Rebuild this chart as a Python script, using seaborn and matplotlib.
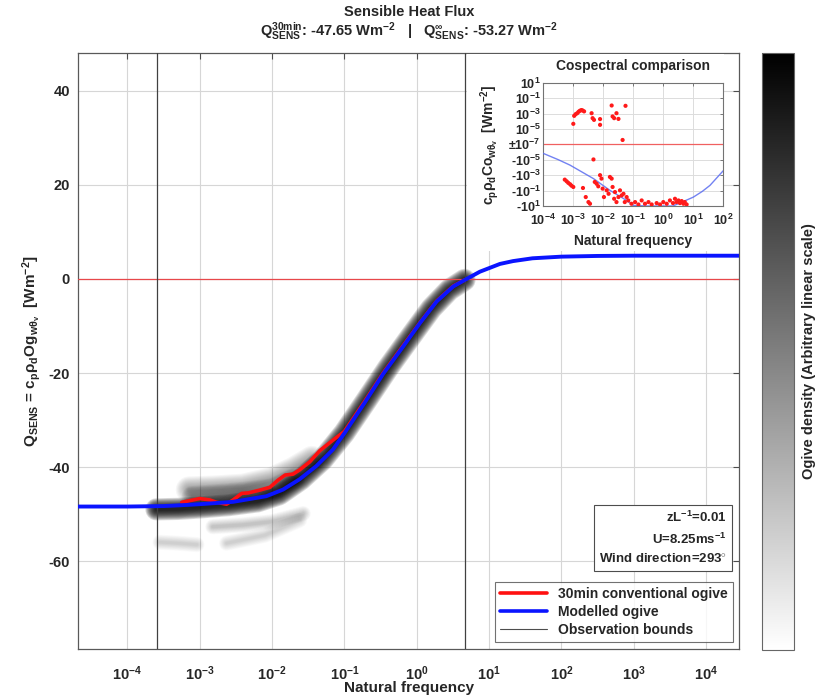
import numpy as np
import pandas as pd
import matplotlib
matplotlib.use("Agg")
import matplotlib.pyplot as plt
import seaborn as sns
from matplotlib.patches import Rectangle
from matplotlib.lines import Line2D
from matplotlib.cm import ScalarMappable
from matplotlib.colors import Normalize

# ---------------- data ----------------
# Modelled ogive (blue): log10(frequency), Q [W m-2]
model_log10f = [-4.68, -4.0, -3.5, -3.23, -3.0, -2.54, -2.08, -1.85, -1.62, -1.39,
                -1.16, -1.0, -0.72, -0.465, -0.19, 0.043, 0.274, 0.504, 0.665,
                0.873, 1.15, 1.33, 1.6, 2.0, 2.5, 3.0, 4.46]
model_q = [-48.4, -48.4, -48.3, -48.1, -47.9, -47.4, -46.2, -44.8, -42.6, -39.8,
           -36.3, -32.8, -26.3, -20.2, -14.4, -9.4, -4.8, -1.6, -0.2,
           1.55, 3.2, 3.8, 4.4, 4.75, 4.9, 4.95, 4.95]

# 30-min conventional ogive (red)
conv_log10f = [-3.25, -3.0, -2.86, -2.77, -2.63, -2.54, -2.42, -2.33, -2.17, -2.03,
               -1.92, -1.82, -1.71, -1.62, -1.48, -1.34, -1.16, -1.0, -0.72, -0.465,
               -0.19, 0.043, 0.274, 0.504, 0.665]
conv_q = [-47.5, -46.7, -47.0, -47.5, -47.9, -47.0, -45.6, -45.5, -44.9, -44.3,
          -42.8, -41.7, -41.5, -40.6, -38.9, -36.5, -34.3, -32.4, -26.0, -20.0,
          -14.2, -9.3, -4.7, -1.5, -0.2]

obs_bounds = [2.6e-4, 4.6]

# Ogive density tracks: (log10 f, Q, per-layer opacity, band width in px)
dens_tracks = [
    ([-3.6, -3.3, -3.0, -2.6, -2.2, -1.9, -1.6, -1.3, -1.0, -0.7, -0.4, -0.1, 0.2, 0.45, 0.66],
     [-49.0, -48.9, -48.6, -48.1, -47.3, -45.8, -42.6, -38.4, -32.7, -25.9, -19.0, -12.6, -6.3, -2.3, -0.2],
     0.14, 15),
    ([-3.15, -2.8, -2.4, -2.0, -1.7, -1.45], [-44.8, -44.6, -44.2, -42.8, -40.6, -38.3], 0.035, 18),
    ([-3.1, -2.6, -2.0, -1.7], [-46.4, -45.8, -44.8, -42.6], 0.04, 15),
    ([-2.82, -2.4, -1.99, -1.57], [-52.7, -52.3, -51.6, -49.9], 0.018, 10),
    ([-2.63, -2.1, -1.62], [-56.2, -54.5, -51.3], 0.016, 10),
    ([-3.55, -3.3, -3.04], [-56.0, -56.2, -56.5], 0.016, 10),
]

# Inset: cospectral comparison (frequency, cospectrum W m-2)
inset_f = [1.0e-3, 1.07e-3, 1.2e-3, 1.35e-3, 1.5e-3, 1.66e-3, 1.86e-3, 2.04e-3, 2.29e-3,
           4.07e-3, 4.4e-3, 4.9e-3, 7.8e-3, 7.8e-3, 1.9e-2, 2.04e-2, 2.3e-2, 2.75e-2,
           3.2e-2, 5.5e-2, 4.4e-2,
           4.7e-3, 5.2e-4, 6.0e-4, 6.8e-4, 7.8e-4, 8.7e-4, 1.0e-3, 2.1e-3, 2.6e-3,
           3.2e-3, 3.6e-3, 5.2e-3, 6.0e-3, 6.8e-3, 7.8e-3, 8.7e-3, 9.5e-3, 1.05e-2,
           1.3e-2, 1.5e-2, 1.66e-2, 1.9e-2, 2.04e-2, 2.3e-2, 2.45e-2, 2.75e-2, 3.2e-2,
           3.6e-2, 4.1e-2, 4.7e-2, 5.2e-2, 6.0e-2, 6.8e-2, 8.7e-2, 0.115, 0.148, 0.19,
           0.245, 0.32, 0.41, 0.6, 0.78, 1.0, 1.3, 1.66, 2.1, 2.45, 2.75, 3.2, 3.6,
           4.1, 4.7, 5.2, 6.0]
inset_co = [4.6e-5, 5.0e-4, 8.3e-4, 1.1e-3, 1.7e-3, 2.3e-3, 2.8e-3, 2.5e-3, 1.9e-3,
            1.1e-3, 2.5e-4, 1.5e-4, 1.9e-4, 3.4e-5, 1.1e-2, 4.2e-4, 2.5e-4, 1.1e-3,
            2.0e-4, 1.0e-2, 3.7e-7,
            -9.1e-6, -3.8e-3, -6.2e-3, -1.0e-2, -1.5e-2, -2.3e-2, -3.4e-2, -4.6e-2, -0.69,
            -3.1, -5.1, -7.6e-3, -1.3e-2, -2.8e-2, -1.0e-3, -2.8e-3, -5.6e-2, -0.69,
            -9.3e-2, -0.26, -1.7e-3, -2.8e-3, -3.4e-2, -1.15, -0.155, -3.1, -0.69,
            -9.3e-2, -0.42, -0.26, -3.1, -0.69, -1.9, -5.1, -3.1, -6.3, -1.9,
            -5.1, -3.1, -6.3, -4.2, -6.3, -3.1, -5.1, -1.9, -4.2, -1.15, -3.1, -1.9,
            -4.2, -2.3, -5.1, -3.1, -6.3]
inset_model_f = [1e-4, 3.2e-4, 7.8e-4, 4.7e-3, 1.66e-2, 6.0e-2, 0.1, 0.3, 1.0, 2.1,
                 10.0, 20.0, 36.0, 100.0]
inset_model_co = [-1.5e-6, -1.0e-5, -5.0e-5, -2.8e-3, -9.3e-2, -1.9, -8.5, -10.0, -10.0,
                  -10.0, -0.71, -0.126, -2.1e-2, -2.6e-4]

main_xticks = [1e-4, 1e-3, 1e-2, 1e-1, 1e0, 1e1, 1e2, 1e3, 1e4]
main_xticklabels = [r"$10^{-4}$", r"$10^{-3}$", r"$10^{-2}$", r"$10^{-1}$", r"$10^{0}$",
                    r"$10^{1}$", r"$10^{2}$", r"$10^{3}$", r"$10^{4}$"]
main_yticks = [-60, -40, -20, 0, 20, 40]
inset_xticks = [1e-4, 1e-3, 1e-2, 1e-1, 1e0, 1e1, 1e2]
inset_xticklabels = main_xticklabels[:7]
inset_yticks = [10, 1e-1, 1e-3, 1e-5, 0, -1e-5, -1e-3, -1e-1, -10]
inset_yticklabels = [r"$10^{1}$", r"$10^{-1}$", r"$10^{-3}$", r"$10^{-5}$", r"±$10^{-7}$",
                     r"-$10^{-5}$", r"-$10^{-3}$", r"-$10^{-1}$", r"-$10^{1}$"]

# ---------------- style ----------------
sns.set_style("white")
plt.rcParams["font.family"] = ["Liberation Sans", "DejaVu Sans"]
plt.rcParams["font.weight"] = "bold"
plt.rcParams["axes.labelweight"] = "bold"
plt.rcParams["axes.titleweight"] = "bold"
plt.rcParams["axes.unicode_minus"] = False
plt.rcParams["mathtext.fontset"] = "custom"
plt.rcParams["mathtext.rm"] = "Liberation Sans:bold"
plt.rcParams["mathtext.it"] = "Liberation Sans:bold"
plt.rcParams["mathtext.bf"] = "Liberation Sans:bold"
plt.rcParams["mathtext.sf"] = "Liberation Sans:bold"
plt.rcParams["mathtext.default"] = "bf"

W, H = 821, 697
fig = plt.figure(figsize=(W / 100, H / 100), dpi=100)
fig.patch.set_facecolor("white")


def fx(px):
    return px / W


def fy(py):
    return 1 - py / H


ax = fig.add_axes([fx(78.3), fy(649), fx(739.3) - fx(78.3), fy(53.3) - fy(649)])
ax.set_facecolor("white")
ax.set_xscale("log")

# density tracks (soft grey bands built from stacked translucent strokes)
nlayers = 12
for lf, q, a, width in dens_tracks:
    d = pd.DataFrame({"f": np.power(10.0, lf), "q": q})
    for k in range(nlayers):
        lw = 1.0 + width * (1 - k / nlayers)
        sns.lineplot(data=d, x="f", y="q", ax=ax, color="black", lw=lw, alpha=a,
                     sort=False, estimator=None, solid_capstyle="round",
                     solid_joinstyle="round", zorder=2)

ax.axhline(0, color="#e8474a", lw=0.9, zorder=3)
for b in obs_bounds:
    ax.axvline(b, color="0.25", lw=0.9, zorder=3)

conv = pd.DataFrame({"f": np.power(10.0, conv_log10f), "q": conv_q})
model = pd.DataFrame({"f": np.power(10.0, model_log10f), "q": model_q})
sns.lineplot(data=conv, x="f", y="q", ax=ax, color="#ff1010", lw=2.6, sort=False,
             estimator=None, zorder=4)
sns.lineplot(data=model, x="f", y="q", ax=ax, color="#0a14ff", lw=2.8, sort=False,
             estimator=None, zorder=5)

ax.set_xlim(10 ** -4.68, 10 ** 4.46)
ax.set_ylim(-78.7, 48)
ax.set_xticks(main_xticks)
ax.set_xticklabels(main_xticklabels)
ax.minorticks_off()
ax.set_yticks(main_yticks)
ax.set_yticklabels([str(v) for v in main_yticks])
ax.tick_params(axis="both", which="both", direction="in", top=True, right=True,
               length=4, width=0.8, color="0.3", labelsize=10.5)
ax.tick_params(axis="x", pad=11)
ax.tick_params(axis="y", pad=6)
ax.grid(True, color="#d6d6d6", lw=0.8)
ax.set_axisbelow(True)
for sp in ax.spines.values():
    sp.set_color("0.35")
    sp.set_linewidth(0.9)
ax.set_xlabel("Natural frequency", fontsize=11, labelpad=-1)
ax.set_ylabel(r"$Q_{SENS}$ = $c_p\rho_d Og_{w\theta_v}$  [Wm$^{-2}$]", fontsize=11, labelpad=4)

# legend
handles = [Line2D([], [], color="#ff1010", lw=2.6),
           Line2D([], [], color="#0a14ff", lw=2.6),
           Line2D([], [], color="0.3", lw=0.8)]
leg = ax.legend(handles, ["30min conventional ogive", "Modelled ogive", "Observation bounds"],
                loc="lower right", bbox_to_anchor=(fx(733), fy(642)),
                bbox_transform=fig.transFigure, borderaxespad=0.0,
                fontsize=10, handlelength=3.4, frameon=True, fancybox=False,
                labelspacing=0.3, borderpad=0.35, handletextpad=0.8)
leg.get_frame().set_edgecolor("0.3")
leg.get_frame().set_linewidth(0.8)
leg.set_zorder(10)

# annotation box
fig.text(fx(727), fy(538), "zL$^{-1}$=0.01\nU=8.25ms$^{-1}$\nWind direction=293$^{\\circ}$",
         ha="right", va="center", multialignment="right", fontsize=9.5, linespacing=1.55,
         bbox=dict(boxstyle="square,pad=0.35", fc="white", ec="0.3", lw=0.8), zorder=10)

# title
fig.text(fx(409), fy(12), "Sensible Heat Flux", ha="center", va="center", fontsize=10.5)
fig.text(fx(409), fy(31),
         r"$Q^{30min}_{SENS}$: -47.65 Wm$^{-2}$   |   $Q^{\infty}_{SENS}$: -53.27 Wm$^{-2}$",
         ha="center", va="center", fontsize=10.5)

# colorbar
cax = fig.add_axes([fx(762.3), fy(650), fx(794) - fx(762.3), fy(53.3) - fy(650)])
sm = ScalarMappable(norm=Normalize(0, 1), cmap="gray_r")
cb = fig.colorbar(sm, cax=cax)
cb.set_ticks(list(np.linspace(0.1, 0.9, 9)))
cb.set_ticklabels([])
cax.tick_params(direction="in", length=3, left=True, right=True, color="0.3", width=0.7)
cb.outline.set_edgecolor("0.4")
cb.outline.set_linewidth(0.8)
fig.text(fx(809), fy(351), "Ogive density (Arbitrary linear scale)", rotation=90,
         ha="center", va="center", fontsize=10.5)

# inset white panel
fig.patches.append(Rectangle((fx(466.5), fy(251)), fx(723.5) - fx(466.5), fy(54.5) - fy(251),
                             transform=fig.transFigure, fc="white", ec="none", zorder=1))


# inset axes with signed-log y scale (±1e-7 at centre)
def fwd(v):
    v = np.asarray(v, dtype=float)
    a = np.abs(v)
    with np.errstate(divide="ignore", invalid="ignore"):
        t = np.where(a > 1e-7, np.log10(np.maximum(a, 1e-300)) + 7.0, 0.0)
    return np.sign(v) * t


def inv(t):
    t = np.asarray(t, dtype=float)
    return np.sign(t) * np.power(10.0, np.abs(t) - 7.0)


axi = fig.add_axes([fx(543.3), fy(206), fx(723.3) - fx(543.3), fy(82.7) - fy(206)])
axi.set_zorder(2)
axi.set_facecolor("white")
axi.set_xscale("log")
axi.set_yscale("function", functions=(fwd, inv))
axi.axhline(0, color="#f06060", lw=0.9, zorder=2)
im = pd.DataFrame({"f": inset_model_f, "c": inset_model_co})
sns.lineplot(data=im, x="f", y="c", ax=axi, color="#5a6cf0", lw=1.0, alpha=0.85,
             sort=False, estimator=None, zorder=3)
sc = pd.DataFrame({"f": inset_f, "c": inset_co})
sns.scatterplot(data=sc, x="f", y="c", ax=axi, color="#ff1a1a", s=9, edgecolor="none",
                linewidth=0, zorder=4, clip_on=True)
axi.set_xlim(1e-4, 1e2)
axi.set_ylim(-10, 10)
axi.set_xticks(inset_xticks)
axi.set_xticklabels(inset_xticklabels)
axi.minorticks_off()
axi.set_yticks(inset_yticks)
axi.set_yticklabels(inset_yticklabels)
axi.tick_params(axis="both", which="both", direction="in", top=True, right=True,
                length=2.5, width=0.6, color="0.4", labelsize=9, pad=2)
axi.tick_params(axis="x", pad=5)
axi.grid(True, color="#dcdcdc", lw=0.7)
axi.set_axisbelow(True)
for sp in axi.spines.values():
    sp.set_color("0.45")
    sp.set_linewidth(0.8)
axi.set_title("Cospectral comparison", fontsize=10, pad=9)
axi.set_xlabel("Natural frequency", fontsize=10, labelpad=4)
axi.set_ylabel(r"$c_p\rho_d Co_{w\theta_v}$  [Wm$^{-2}$]", fontsize=10, labelpad=5)

fig.savefig("out.png", dpi=100, facecolor="white")
